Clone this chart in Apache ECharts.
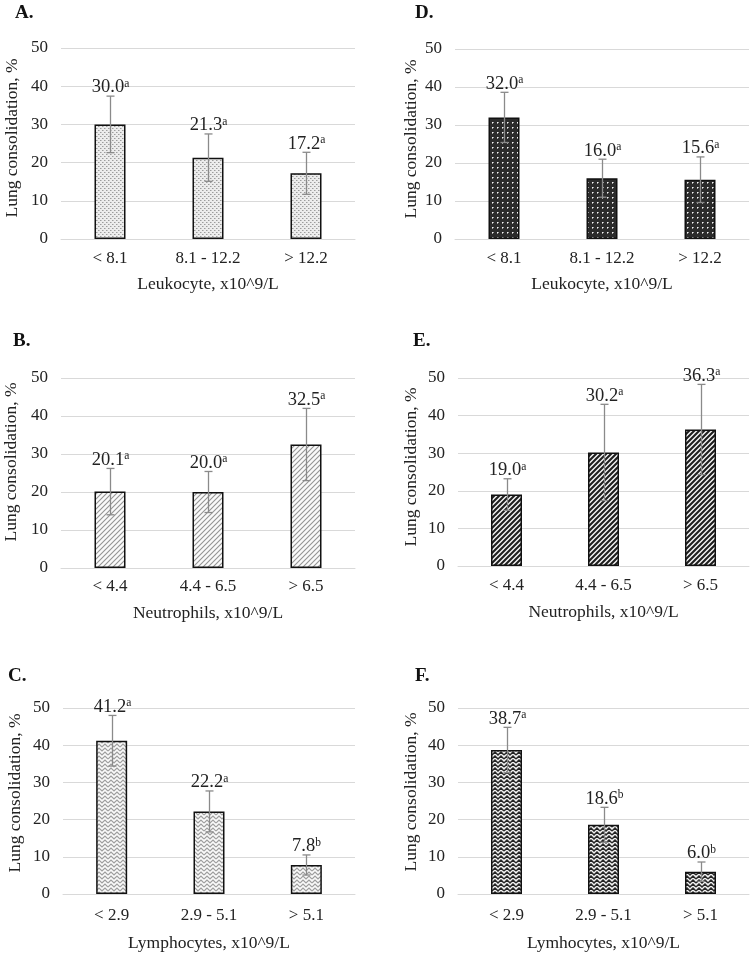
<!DOCTYPE html>
<html>
<head>
<meta charset="utf-8">
<script src="https://cdn.jsdelivr.net/npm/echarts@6/dist/echarts.min.js"></script>
<style>
html,body{margin:0;padding:0;background:#fff;}
#chart{width:755px;height:961px;}
</style>
</head>
<body>
<div id="chart"></div>
<script>
// ---- data ----
const leukCats = ['< 8.1', '8.1 - 12.2', '> 12.2'];
const neutCats = ['< 4.4', '4.4 - 6.5', '> 6.5'];
const lymphCats = ['< 2.9', '2.9 - 5.1', '> 5.1'];
const yTicks = [0, 10, 20, 30, 40, 50];

const valsA = [30.0, 21.3, 17.2];
const errA = [7.4, 6.2, 5.5];
const supA = ['a', 'a', 'a'];

const valsD = [32.0, 16.0, 15.6];
const errD = [6.6, 5.0, 6.0];
const supD = ['a', 'a', 'a'];

const valsB = [20.1, 20.0, 32.5];
const errB = [6.1, 5.4, 9.5];
const supB = ['a', 'a', 'a'];

const valsE = [19.0, 30.2, 36.3];
const errE = [4.2, 12.8, 12.0];
const supE = ['a', 'a', 'a'];

const valsC = [41.2, 22.2, 7.8];
const errC = [6.8, 5.5, 2.7];
const supC = ['a', 'a', 'b'];

const valsF = [38.7, 18.6, 6.0];
const errF = [6.1, 4.7, 2.6];
const supF = ['a', 'b', 'b'];

const yTitle = 'Lung consolidation, %';

// ---- patterns ----
function tile(w, h, draw) {
  const c = document.createElement('canvas');
  c.width = w; c.height = h;
  const ctx = c.getContext('2d');
  draw(ctx, w, h);
  return c;
}
function zig(ctx, w, h, color, lw) {
  ctx.strokeStyle = color; ctx.lineWidth = lw;
  ctx.beginPath();
  for (const y0 of [-4, 0, 4, 8]) {
    ctx.moveTo(0, y0 + 3); ctx.lineTo(3, y0); ctx.lineTo(6, y0 + 3); ctx.lineTo(9, y0); ctx.lineTo(12, y0 + 3);
  }
  ctx.stroke();
}
const patterns = {
  dotsLight: tile(4, 4, (ctx) => {
    ctx.fillStyle = '#ececec'; ctx.fillRect(0, 0, 4, 4);
    ctx.fillStyle = '#9c9c9c';
    ctx.fillRect(0, 0, 1, 1); ctx.fillRect(2, 2, 1, 1);
    ctx.fillStyle = '#c4c4c4';
    ctx.fillRect(1, 0, 1, 1); ctx.fillRect(3, 2, 1, 1);
  }),
  dotsDark: tile(5, 5, (ctx) => {
    ctx.fillStyle = '#2b2b2b'; ctx.fillRect(0, 0, 5, 5);
    ctx.fillStyle = '#f4f4f4'; ctx.fillRect(2, 2, 1, 1);
    ctx.fillStyle = '#a0a0a0'; ctx.fillRect(3, 2, 1, 1); ctx.fillRect(2, 3, 1, 1);
  }),
  diagLight: tile(5, 5, (ctx, w, h) => {
    ctx.fillStyle = '#fafafa'; ctx.fillRect(0, 0, w, h);
    ctx.strokeStyle = '#949494'; ctx.lineWidth = 1.1;
    ctx.beginPath();
    ctx.moveTo(-1, h + 1); ctx.lineTo(w + 1, -1);
    ctx.moveTo(-1, 1); ctx.lineTo(1, -1);
    ctx.moveTo(w - 1, h + 1); ctx.lineTo(w + 1, h - 1);
    ctx.stroke();
  }),
  diagDark: tile(5, 5, (ctx, w, h) => {
    ctx.fillStyle = '#f4f4f4'; ctx.fillRect(0, 0, w, h);
    ctx.strokeStyle = '#1e1e1e'; ctx.lineWidth = 2.1;
    ctx.beginPath();
    ctx.moveTo(-1, h + 1); ctx.lineTo(w + 1, -1);
    ctx.moveTo(-2, 2); ctx.lineTo(2, -2);
    ctx.moveTo(w - 2, h + 2); ctx.lineTo(w + 2, h - 2);
    ctx.stroke();
  }),
  zigLight: tile(12, 8, (ctx, w, h) => {
    ctx.fillStyle = '#fafafa'; ctx.fillRect(0, 0, w, h);
    zig(ctx, w, h, '#9e9e9e', 1.2);
  }),
  zigDark: tile(12, 8, (ctx, w, h) => {
    ctx.fillStyle = '#f2f2f2'; ctx.fillRect(0, 0, w, h);
    zig(ctx, w, h, '#262626', 1.5);
  })
};

// ---- panels ----
const FONT = 'Liberation Serif';
const panels = [
  { letter: 'A.', cats: leukCats, vals: valsA, errs: errA, sups: supA, xName: 'Leukocyte, x10^9/L', pat: 'dotsLight',
    grid: { left: 61, top: 48, width: 294, height: 191 }, letterPos: [15, 4], yTitlePos: [12, 138], catMargin: 11, nameGap: 36 },
  { letter: 'D.', cats: leukCats, vals: valsD, errs: errD, sups: supD, xName: 'Leukocyte, x10^9/L', pat: 'dotsDark',
    grid: { left: 455, top: 49, width: 294, height: 190 }, letterPos: [415, 4], yTitlePos: [411, 139], catMargin: 11, nameGap: 36 },
  { letter: 'B.', cats: neutCats, vals: valsB, errs: errB, sups: supB, xName: 'Neutrophils, x10^9/L', pat: 'diagLight',
    grid: { left: 61, top: 378, width: 294, height: 190 }, letterPos: [13, 332], yTitlePos: [11, 462], catMargin: 10, nameGap: 36 },
  { letter: 'E.', cats: neutCats, vals: valsE, errs: errE, sups: supE, xName: 'Neutrophils, x10^9/L', pat: 'diagDark',
    grid: { left: 458, top: 378, width: 291, height: 188 }, letterPos: [413, 332], yTitlePos: [411, 467], catMargin: 11, nameGap: 37 },
  { letter: 'C.', cats: lymphCats, vals: valsC, errs: errC, sups: supC, xName: 'Lymphocytes, x10^9/L', pat: 'zigLight',
    grid: { left: 63, top: 708, width: 292, height: 186 }, letterPos: [8, 667], yTitlePos: [15, 793], catMargin: 13, nameGap: 40 },
  { letter: 'F.', cats: lymphCats, vals: valsF, errs: errF, sups: supF, xName: 'Lymhocytes, x10^9/L', pat: 'zigDark',
    grid: { left: 458, top: 708, width: 291, height: 186 }, letterPos: [415, 667], yTitlePos: [411, 792], catMargin: 13, nameGap: 40 }
];

const grids = [], xAxes = [], yAxes = [], series = [], graphics = [];
panels.forEach((p, i) => {
  grids.push(Object.assign({ containLabel: false }, p.grid));
  xAxes.push({
    type: 'category', gridIndex: i, data: p.cats,
    axisLine: { lineStyle: { color: '#d9d9d9', width: 1 } },
    axisTick: { show: false },
    axisLabel: { color: '#222', fontFamily: FONT, fontSize: 17, margin: p.catMargin },
    name: p.xName, nameLocation: 'middle', nameGap: p.nameGap,
    nameTextStyle: { color: '#222', fontFamily: FONT, fontSize: 17.5 }
  });
  yAxes.push({
    type: 'value', gridIndex: i, min: yTicks[0], max: yTicks[yTicks.length - 1], interval: yTicks[1] - yTicks[0],
    axisLine: { show: false }, axisTick: { show: false },
    axisLabel: { color: '#222', fontFamily: FONT, fontSize: 17, margin: 13 },
    splitLine: { lineStyle: { color: '#d9d9d9', width: 1 } }
  });
  series.push({
    type: 'bar', xAxisIndex: i, yAxisIndex: i, data: p.vals, barWidth: 31,
    itemStyle: {
      color: { image: patterns[p.pat], repeat: 'repeat' },
      borderColor: '#111', borderWidth: 1.5
    },
    silent: true, animation: false
  });
  series.push({
    type: 'custom', xAxisIndex: i, yAxisIndex: i, z: 5, animation: false, silent: true,
    data: p.vals.map((v, k) => [k, v, p.errs[k]]),
    encode: { x: 0, y: 1 },
    renderItem: (params, api) => {
      const k = api.value(0), v = api.value(1), e = api.value(2);
      const sup = p.sups[params.dataIndex];
      const top = api.coord([k, v + e]);
      const bot = api.coord([k, v - e]);
      const cx = Math.round(top[0]) + 0.5;
      const capW = 4;
      const ls = { stroke: '#8a8a8a', lineWidth: 1.3 };
      return {
        type: 'group',
        children: [
          { type: 'line', shape: { x1: cx, y1: top[1], x2: cx, y2: bot[1] }, style: ls },
          { type: 'line', shape: { x1: cx - capW, y1: top[1], x2: cx + capW, y2: top[1] }, style: ls },
          { type: 'line', shape: { x1: cx - capW, y1: bot[1], x2: cx + capW, y2: bot[1] }, style: ls },
          { type: 'text', x: cx, y: top[1] + 1,
            style: {
              text: '{v|' + v.toFixed(1) + '}{s|' + sup + '}',
              align: 'center', verticalAlign: 'bottom',
              rich: {
                v: { fontFamily: FONT, fontSize: 18.5, lineHeight: 19, fill: '#222', verticalAlign: 'bottom' },
                s: { fontFamily: FONT, fontSize: 11.5, lineHeight: 19, fill: '#222', verticalAlign: 'top' }
              }
            } }
        ]
      };
    }
  });
  graphics.push({
    type: 'text', left: p.letterPos[0], top: p.letterPos[1],
    style: { text: p.letter, fontFamily: FONT, fontSize: 19, fontWeight: 'bold', fill: '#111' }
  });
  graphics.push({
    type: 'text', x: p.yTitlePos[0], y: p.yTitlePos[1], rotation: Math.PI / 2,
    style: { text: yTitle, fontFamily: FONT, fontSize: 17.5, fill: '#222', align: 'center', verticalAlign: 'middle' }
  });
});

const chart = echarts.init(document.getElementById('chart'), null, { renderer: 'canvas' });
chart.setOption({
  backgroundColor: '#ffffff',
  animation: false,
  grid: grids, xAxis: xAxes, yAxis: yAxes, series: series, graphic: graphics
});
</script>
</body>
</html>
